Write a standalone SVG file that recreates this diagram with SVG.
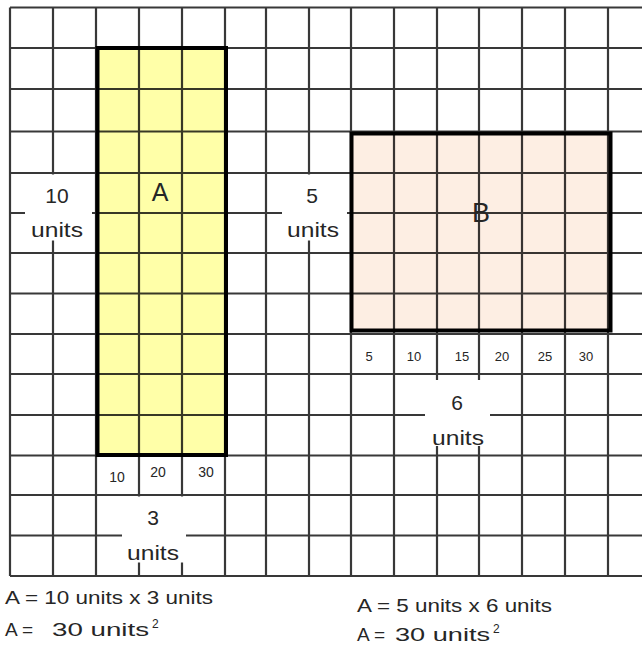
<svg xmlns="http://www.w3.org/2000/svg" width="642" height="648" viewBox="0 0 642 648">
<style>
.grid{fill:none;stroke:#000;stroke-opacity:0.78;stroke-width:2.2}
.border{fill:none;stroke:#000;stroke-width:4}
.lbl{font-family:"Liberation Sans",Arial,sans-serif;fill:#262626;text-anchor:middle}
.eq{font-family:"Liberation Sans",Arial,sans-serif;fill:#262626}
.box{fill:#fff}
</style>
<rect x="0" y="0" width="642" height="648" fill="#fff"/>
<g id="shapeA-fill"><rect x="97" y="48" width="129" height="407" fill="#ffffa8"/></g>
<g id="shapeB-fill"><rect x="351" y="133" width="260" height="198" fill="#fdeee3"/></g>
<g id="grid">
<path class="grid" d="M10 7.5V576 M53 7.5V576 M96 7.5V576 M139 7.5V576 M182 7.5V576 M225 7.5V576 M266 7.5V576 M309 7.5V576 M351 7.5V576 M394 7.5V576 M437 7.5V576 M479 7.5V576 M522 7.5V576 M565 7.5V576 M608 7.5V576
M10 7.5H642 M10 48H642 M10 89H642 M10 131.5H642 M10 173H642 M10 213H642 M10 253H642 M10 293.5H642 M10 334H642 M10 374H642 M10 415H642 M10 455.5H642 M10 495H642 M10 535.5H642 M10 576H642"/>
</g>
<g id="A">
<rect class="border" x="97.5" y="48" width="128.5" height="407"/>
<text class="lbl" x="160" y="201" font-size="25">A</text>
</g>
<g id="B">
<rect class="border" x="351.5" y="133.5" width="259" height="197" stroke-width="5"/>
<text class="lbl" x="481" y="222" font-size="27">B</text>
</g>
<g id="label-10units">
<rect class="box" x="25" y="174.5" width="67" height="66"/>
<text class="lbl" x="57" y="203" font-size="21">10</text>
<text class="lbl" x="57" y="237" font-size="21" textLength="52" lengthAdjust="spacingAndGlyphs">units</text>
</g>
<g id="label-5units">
<rect class="box" x="282" y="174.5" width="65" height="66"/>
<text class="lbl" x="312" y="203" font-size="21">5</text>
<text class="lbl" x="313" y="237" font-size="21" textLength="52" lengthAdjust="spacingAndGlyphs">units</text>
</g>
<g id="ticks-A">
<text class="lbl" x="117" y="482" font-size="14">10</text>
<text class="lbl" x="158" y="477" font-size="14">20</text>
<text class="lbl" x="206" y="477" font-size="14">30</text>
</g>
<g id="label-3units">
<rect class="box" x="122" y="496.5" width="64" height="66"/>
<text class="lbl" x="153" y="525" font-size="21">3</text>
<text class="lbl" x="153" y="560" font-size="21" textLength="52" lengthAdjust="spacingAndGlyphs">units</text>
</g>
<g id="ticks-B">
<text class="lbl" x="369" y="361" font-size="13">5</text>
<text class="lbl" x="414" y="361" font-size="13">10</text>
<text class="lbl" x="462" y="361" font-size="13">15</text>
<text class="lbl" x="502" y="361" font-size="13">20</text>
<text class="lbl" x="545" y="361" font-size="13">25</text>
<text class="lbl" x="586" y="361" font-size="13">30</text>
</g>
<g id="label-6units">
<rect class="box" x="425" y="380" width="65" height="66"/>
<text class="lbl" x="457" y="410" font-size="21">6</text>
<text class="lbl" x="458" y="445" font-size="21" textLength="52" lengthAdjust="spacingAndGlyphs">units</text>
</g>
<g id="equations">
<text class="eq" x="5" y="604" font-size="19" textLength="208" lengthAdjust="spacingAndGlyphs">A = 10 units x 3 units</text>
<text class="eq" x="5" y="636" font-size="19">A = <tspan x="52" textLength="97" lengthAdjust="spacingAndGlyphs">30 units</tspan><tspan font-size="12" dx="3" dy="-8">2</tspan></text>
<text class="eq" x="357" y="612" font-size="19" textLength="195" lengthAdjust="spacingAndGlyphs">A = 5 units x 6 units</text>
<text class="eq" x="357" y="641" font-size="19">A = <tspan x="395" textLength="95" lengthAdjust="spacingAndGlyphs">30 units</tspan><tspan font-size="12" dx="3" dy="-8">2</tspan></text>
</g>
</svg>
